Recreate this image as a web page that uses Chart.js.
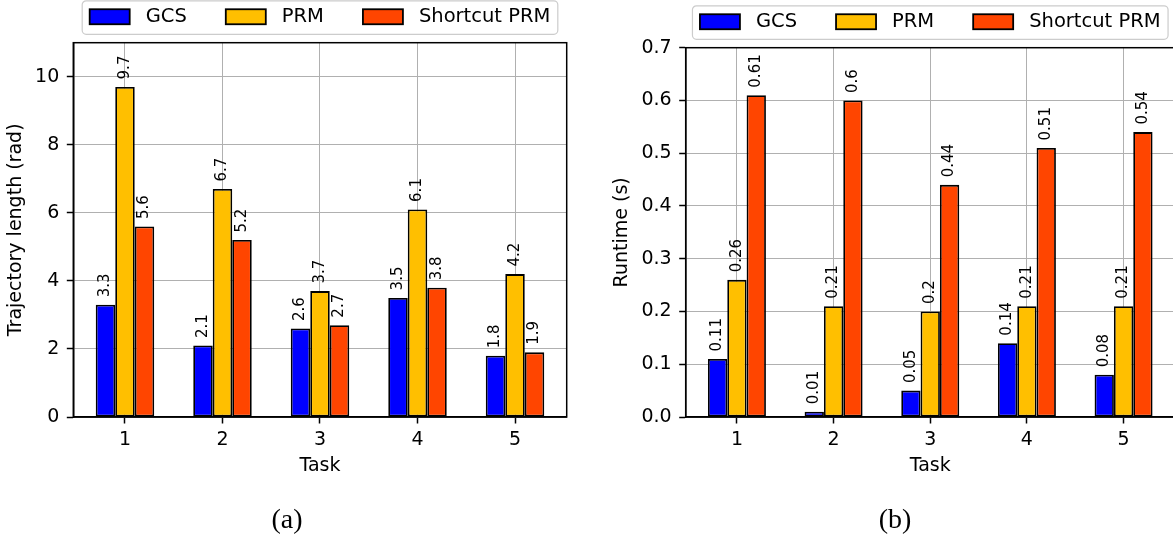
<!DOCTYPE html>
<html><head><meta charset="utf-8">
<script src="https://cdn.jsdelivr.net/npm/chart.js@4.4.0/dist/chart.umd.min.js"></script>
<style>
html,body{margin:0;padding:0;background:#fff;overflow:hidden;width:1173px;height:542px;position:relative;}
canvas{position:absolute;top:0;}
#cA{left:0;}
#cB{left:586px;}
.cap{position:absolute;font-family:"Liberation Serif",serif;font-size:28px;line-height:1;transform:translate(-50%,-50%);color:#000;white-space:nowrap;}
</style></head><body>
<canvas id="cA" width="586" height="542"></canvas>
<canvas id="cB" width="600" height="542"></canvas>
<div class="cap" style="left:287px;top:519px">(a)</div>
<div class="cap" style="left:895px;top:519px">(b)</div>
<script>
// ---- data ----
const tasks = [1, 2, 3, 4, 5];
const seriesNames = ['GCS', 'PRM', 'Shortcut PRM'];
const seriesColors = ['#0000ff', '#ffbf00', '#ff4500'];
const lengthGCS = [3.3, 2.1, 2.6, 3.5, 1.8];
const lengthPRM = [9.7, 6.7, 3.7, 6.1, 4.2];
const lengthShortcut = [5.6, 5.2, 2.7, 3.8, 1.9];
const runtimeGCS = [0.11, 0.01, 0.05, 0.14, 0.08];
const runtimePRM = [0.26, 0.21, 0.2, 0.21, 0.21];
const runtimeShortcut = [0.61, 0.6, 0.44, 0.51, 0.54];
const lengthTicks = [0, 2, 4, 6, 8, 10];
const runtimeTicks = [0, 0.1, 0.2, 0.3, 0.4, 0.5, 0.6, 0.7];

const FONT = 'DejaVu Sans';
Chart.defaults.font.family = FONT;
Chart.defaults.color = '#000';

const framePlugin = {
  id: 'frame',
  afterDatasetsDraw(chart) {
    const {ctx, chartArea: a} = chart;
    ctx.save();
    ctx.strokeStyle = '#000';
    ctx.lineWidth = 1.5;
    ctx.strokeRect(a.left, a.top, a.right - a.left, a.bottom - a.top);
    ctx.restore();
  }
};

const valueLabelPlugin = {
  id: 'valueLabels',
  afterDatasetsDraw(chart) {
    const ctx = chart.ctx;
    ctx.save();
    ctx.font = '15px "' + FONT + '"';
    ctx.fillStyle = '#000';
    ctx.textAlign = 'left';
    ctx.textBaseline = 'middle';
    chart.data.datasets.forEach((ds, di) => {
      const meta = chart.getDatasetMeta(di);
      meta.data.forEach((bar, i) => {
        const v = ds.data[i].y;
        ctx.save();
        ctx.translate(bar.x, bar.y - 7.5);
        ctx.rotate(-Math.PI / 2);
        ctx.fillText(String(v), 0, 0);
        ctx.restore();
      });
    });
    ctx.restore();
  }
};

const legendPlugin = {
  id: 'mplLegend',
  afterDraw(chart) {
    const ctx = chart.ctx, a = chart.chartArea;
    const f = 19.5, hl = 40, hh = 15, htp = 16, cs = 39, bp = 7.5, bh = 33.5;
    const ds = chart.data.datasets;
    ctx.save();
    ctx.font = f + 'px "' + FONT + '"';
    const widths = ds.map(d => ctx.measureText(d.label).width);
    const total = 2 * bp + ds.length * (hl + htp) + widths.reduce((s, w) => s + w, 0) + (ds.length - 1) * cs;
    const x0 = (a.left + a.right) / 2 - total / 2;
    const y0 = a.top - 8.4 - bh;
    const r = 4;
    ctx.beginPath();
    ctx.moveTo(x0 + r, y0);
    ctx.lineTo(x0 + total - r, y0);
    ctx.arcTo(x0 + total, y0, x0 + total, y0 + r, r);
    ctx.lineTo(x0 + total, y0 + bh - r);
    ctx.arcTo(x0 + total, y0 + bh, x0 + total - r, y0 + bh, r);
    ctx.lineTo(x0 + r, y0 + bh);
    ctx.arcTo(x0, y0 + bh, x0, y0 + bh - r, r);
    ctx.lineTo(x0, y0 + r);
    ctx.arcTo(x0, y0, x0 + r, y0, r);
    ctx.closePath();
    ctx.fillStyle = 'rgba(255,255,255,0.8)';
    ctx.fill();
    ctx.strokeStyle = '#cccccc';
    ctx.lineWidth = 1.2;
    ctx.stroke();
    let x = x0 + bp;
    const yc = y0 + bh / 2 - 0.8;
    ctx.textAlign = 'left';
    ctx.textBaseline = 'middle';
    ds.forEach((d, i) => {
      ctx.fillStyle = d.backgroundColor;
      ctx.fillRect(x, yc - hh / 2, hl, hh);
      ctx.strokeStyle = '#000';
      ctx.lineWidth = 1.8;
      ctx.strokeRect(x, yc - hh / 2, hl, hh);
      x += hl + htp;
      ctx.fillStyle = '#000';
      ctx.fillText(d.label, x, yc);
      x += widths[i] + cs;
    });
    ctx.restore();
  }
};

function makeChart(canvasId, series, yMax, yTicks, yFmt, yTitle, yAxisWidth, yTitlePad, padding) {
  const datasets = series.map((vals, si) => ({
    label: seriesNames[si],
    data: tasks.map((t, i) => ({x: t, y: vals[i]})),
    backgroundColor: seriesColors[si],
    borderColor: '#000',
    borderWidth: 1.8,
    borderSkipped: false,
    categoryPercentage: 0.6,
    barPercentage: 1.0
  }));
  return new Chart(document.getElementById(canvasId), {
    type: 'bar',
    data: {datasets},
    options: {
      responsive: false,
      animation: false,
      devicePixelRatio: 1,
      layout: {padding},
      plugins: {legend: {display: false}, tooltip: {enabled: false}},
      scales: {
        x: {
          type: 'linear',
          min: 0.47,
          max: 5.53,
          offset: false,
          afterBuildTicks: s => { s.ticks = tasks.map(v => ({value: v})); },
          afterFit: s => { s.height = 80; },
          ticks: {
            autoSkip: false,
            maxRotation: 0,
            padding: 5,
            font: {size: 19},
            color: '#000',
            callback: v => String(v)
          },
          grid: {
            offset: false,
            color: '#b0b0b0',
            lineWidth: 1,
            drawTicks: true,
            tickLength: 6.5,
            tickColor: '#000',
            tickWidth: 1.5
          },
          border: {display: true, color: '#000', width: 1.5},
          title: {
            display: true,
            text: 'Task',
            color: '#000',
            font: {size: 19},
            padding: {top: 0, bottom: 20}
          }
        },
        y: {
          type: 'linear',
          min: 0,
          max: yMax,
          afterBuildTicks: s => { s.ticks = yTicks.map(v => ({value: v})); },
          afterFit: s => { s.width = yAxisWidth; },
          ticks: {
            padding: 7.5,
            font: {size: 19},
            color: '#000',
            callback: v => yFmt(v)
          },
          grid: {
            color: '#b0b0b0',
            lineWidth: 1,
            drawTicks: true,
            tickLength: 6.5,
            tickColor: '#000',
            tickWidth: 1.5
          },
          border: {display: true, color: '#000', width: 1.5},
          title: {
            display: true,
            text: yTitle,
            color: '#000',
            font: {size: 19},
            padding: {top: yTitlePad, bottom: 0}
          }
        }
      }
    },
    plugins: [framePlugin, valueLabelPlugin, legendPlugin]
  });
}

makeChart('cA', [lengthGCS, lengthPRM, lengthShortcut], 11, lengthTicks,
  v => String(v), 'Trajectory length (rad)', 73.3, 4.2,
  {left: 0, right: 19.3, top: 42.7, bottom: 45});
makeChart('cB', [runtimeGCS, runtimePRM, runtimeShortcut], 0.7, runtimeTicks,
  v => v.toFixed(1), 'Runtime (s)', 99.7, 24.7,
  {left: 0, right: 11.2, top: 47.7, bottom: 45});
</script>
</body></html>
